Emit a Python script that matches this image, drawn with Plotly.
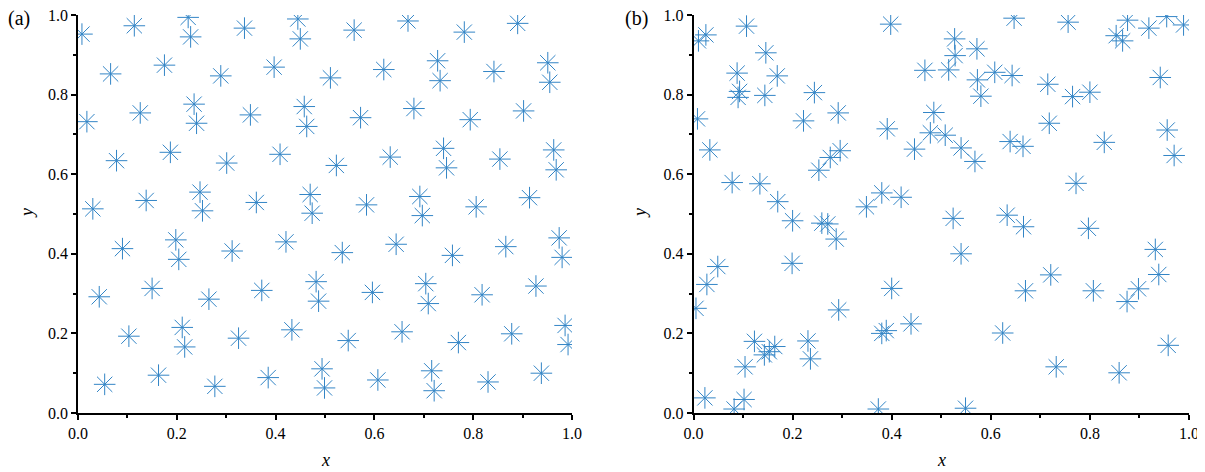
import plotly.graph_objects as go

# Panel (a) points
a_x = [0.008,0.114,0.223,0.228,0.337,0.445,0.450,0.066,0.175,0.289,0.397,0.018,0.126,0.235,0.240,0.349,0.458,0.463,
       0.078,0.187,0.301,0.409,0.030,0.138,0.247,0.252,0.361,0.470,0.474,0.559,0.668,0.782,0.890,0.511,0.619,0.728,
       0.733,0.842,0.951,0.955,0.572,0.680,0.794,0.902,0.523,0.632,0.740,0.746,0.854,0.963,0.968,0.584,0.692,0.697,
       0.806,0.914,0.090,0.198,0.204,0.312,0.421,0.482,0.487,0.043,0.150,0.265,0.372,0.103,0.211,0.216,0.325,0.433,
       0.054,0.163,0.277,0.385,0.494,0.499,0.535,0.644,0.758,0.866,0.974,0.980,0.596,0.704,0.709,0.818,0.927,0.547,
       0.656,0.770,0.878,0.986,0.992,0.607,0.716,0.721,0.830,0.938]
a_y = [0.952,0.973,0.994,0.945,0.967,0.990,0.940,0.852,0.874,0.847,0.869,0.732,0.754,0.776,0.728,0.749,0.770,0.720,
       0.634,0.655,0.628,0.650,0.513,0.534,0.555,0.508,0.529,0.549,0.502,0.962,0.985,0.957,0.979,0.842,0.863,0.885,
       0.835,0.858,0.880,0.831,0.742,0.765,0.737,0.759,0.622,0.643,0.665,0.616,0.638,0.661,0.611,0.523,0.544,0.496,
       0.518,0.541,0.413,0.435,0.386,0.407,0.430,0.330,0.281,0.292,0.313,0.286,0.308,0.193,0.215,0.166,0.188,0.209,
       0.072,0.095,0.067,0.089,0.111,0.063,0.403,0.424,0.396,0.418,0.440,0.391,0.303,0.325,0.275,0.297,0.319,0.182,
       0.204,0.177,0.199,0.220,0.172,0.083,0.106,0.056,0.078,0.100]

# Panel (b) points
b_x = [0.010,0.025,0.107,0.398,0.146,0.088,0.169,0.093,0.090,0.144,0.244,0.467,0.008,0.222,0.292,0.391,0.485,0.478,
       0.033,0.296,0.276,0.253,0.446,0.078,0.134,0.170,0.349,0.380,0.419,
       0.647,0.756,0.876,0.955,0.989,0.919,0.853,0.866,0.527,0.528,0.572,0.515,0.573,0.580,0.608,0.643,0.715,0.765,
       0.800,0.942,0.508,0.540,0.568,0.639,0.665,0.718,0.829,0.956,0.970,0.772,
       0.200,0.259,0.271,0.288,0.049,0.027,0.005,0.199,0.400,0.293,0.123,0.231,0.143,0.153,0.164,0.236,0.104,0.380,
       0.389,0.439,0.023,0.082,0.102,0.373,
       0.524,0.633,0.666,0.797,0.540,0.932,0.721,0.939,0.670,0.807,0.898,0.875,0.624,0.958,0.732,0.859,0.549]
b_y = [0.935,0.950,0.972,0.977,0.905,0.854,0.847,0.808,0.793,0.798,0.805,0.861,0.739,0.734,0.754,0.714,0.755,0.704,
       0.661,0.659,0.642,0.610,0.663,0.579,0.576,0.531,0.518,0.553,0.542,
       0.992,0.982,0.987,0.996,0.975,0.967,0.948,0.935,0.940,0.898,0.915,0.862,0.837,0.796,0.856,0.848,0.826,0.795,
       0.806,0.843,0.698,0.666,0.632,0.682,0.670,0.728,0.680,0.711,0.647,0.577,
       0.483,0.477,0.475,0.437,0.368,0.323,0.263,0.376,0.313,0.259,0.180,0.181,0.146,0.154,0.167,0.136,0.116,0.200,
       0.207,0.224,0.038,0.010,0.034,0.010,
       0.489,0.497,0.468,0.464,0.400,0.411,0.347,0.348,0.307,0.307,0.312,0.280,0.201,0.170,0.116,0.101,0.012]

tick_vals = [0.0, 0.2, 0.4, 0.6, 0.8, 1.0]
tick_text = ["0.0", "0.2", "0.4", "0.6", "0.8", "1.0"]
panel_labels = ["(a)", "(b)"]

# page body has an 8px margin: lay out in window pixels, shifted by OFF
OFF = 8
W, H = 1205 - OFF, 472 - OFF
COLOR = "#3385C6"
FONT = "Liberation Serif, Times New Roman, DejaVu Serif, serif"


def px_x(p):
    return (p - OFF) / W


def px_y(p):
    return 1 - (p - OFF) / H


marker = dict(symbol="asterisk-open", size=18, color=COLOR,
              line=dict(color=COLOR, width=1))

fig = go.Figure()
fig.add_trace(go.Scatter(x=a_x, y=a_y, mode="markers", marker=marker,
                         xaxis="x", yaxis="y", showlegend=False))
fig.add_trace(go.Scatter(x=b_x, y=b_y, mode="markers", marker=marker,
                         xaxis="x2", yaxis="y2", showlegend=False))

ydom = [px_y(413), px_y(15)]
axis_common = dict(range=[0, 1], showgrid=False, zeroline=False, showline=True, automargin=False,
                   linecolor="black", linewidth=1.5, ticks="outside", ticklen=5,
                   tickwidth=1.5, tickcolor="black", tickvals=tick_vals, ticktext=tick_text,
                   ticklabeloverflow="allow",
                   tickfont=dict(family=FONT, size=16, color="black"),
                   minor=dict(tickvals=[0.1, 0.3, 0.5, 0.7, 0.9], ticks="outside",
                              ticklen=3, tickwidth=1.5, tickcolor="black"))

fig.update_layout(
    width=W, height=H,
    margin=dict(l=0, r=0, t=0, b=0, autoexpand=False),
    paper_bgcolor="white", plot_bgcolor="white",
    font=dict(family=FONT),
    xaxis=dict(domain=[px_x(78), px_x(572)], anchor="y", **axis_common),
    yaxis=dict(domain=ydom, anchor="x", **axis_common),
    xaxis2=dict(domain=[px_x(693.5), px_x(1189)], anchor="y2", **axis_common),
    yaxis2=dict(domain=ydom, anchor="x2", **axis_common),
)

annos = []
for lbl, xpx in zip(panel_labels, [7, 624]):
    annos.append(dict(text=lbl, x=px_x(xpx), y=px_y(19), xref="paper", yref="paper",
                      xanchor="left", yanchor="middle", showarrow=False, borderpad=0,
                      font=dict(family=FONT, size=20, color="black")))
for cx in [325, 941]:
    annos.append(dict(text="<i>x</i>", x=px_x(cx), y=px_y(460), xref="paper", yref="paper",
                      xanchor="center", yanchor="middle", showarrow=False,
                      font=dict(family=FONT, size=18, color="black")))
for cx in [27, 640]:
    annos.append(dict(text="<i>y</i>", x=px_x(cx), y=px_y(213), xref="paper", yref="paper",
                      xanchor="center", yanchor="middle", showarrow=False, textangle=-90,
                      font=dict(family=FONT, size=18, color="black")))
fig.update_layout(annotations=annos)

fig.write_html("out.html")
